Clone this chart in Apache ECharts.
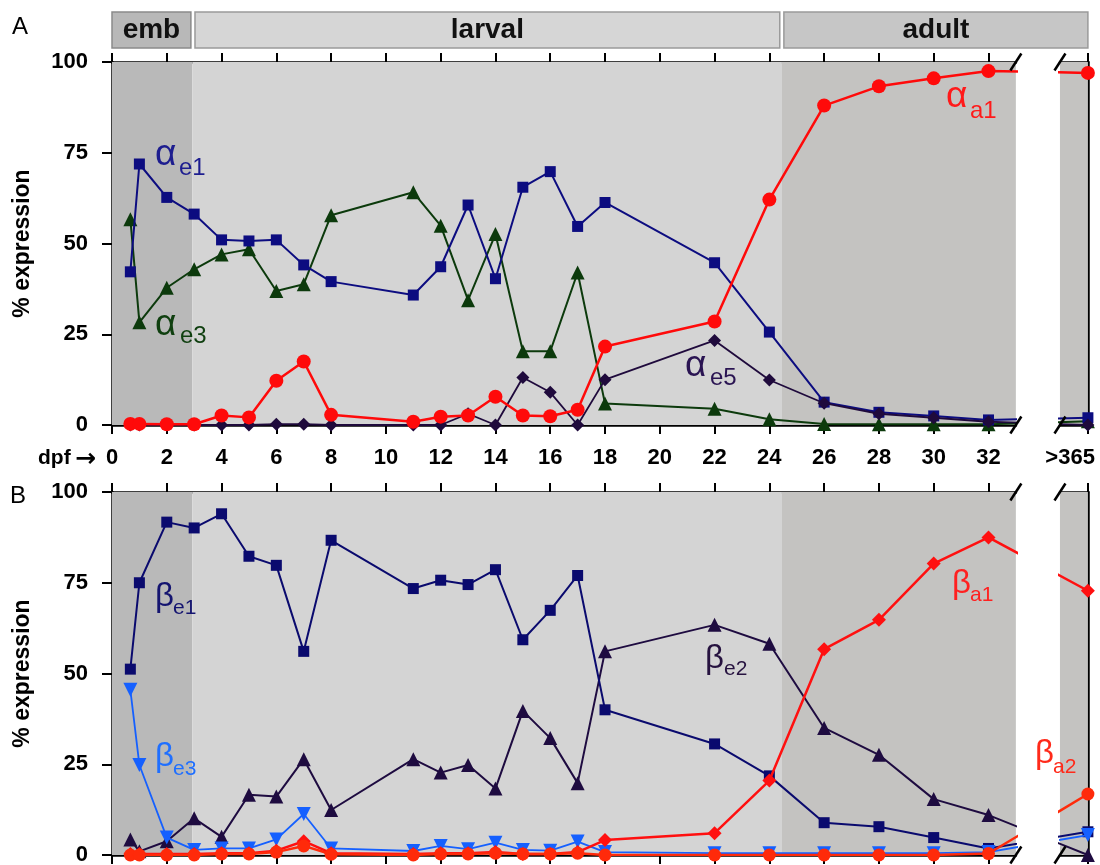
<!DOCTYPE html>
<html>
<head>
<meta charset="utf-8">
<script src="https://cdn.jsdelivr.net/npm/echarts@6/dist/echarts.min.js"></script>
<style>html,body{margin:0;padding:0;background:#fff}#c{width:1100px;height:865px}</style>
</head>
<body>
<div id="c"></div>
<script>
// ---------------- data ----------------
const dpf = [0.67, 1, 2, 3, 4, 5, 6, 7, 8, 11, 12, 13, 14, 15, 16, 17, 18, 22, 24, 26, 28, 30, 32, '>365'];
const xTicks = [0, 2, 4, 6, 8, 10, 12, 14, 16, 18, 20, 22, 24, 26, 28, 30, 32];
const yTicks = [0, 25, 50, 75, 100];
const stages = ['emb', 'larval', 'adult'];

// Panel A (alpha globins)
const alphaE1 = [42.2, 71.9, 62.7, 58.1, 51.0, 50.7, 51.0, 44.1, 39.5, 35.8, 43.6, 60.6, 40.3, 65.5, 69.8, 54.7, 61.3, 44.7, 25.6, 6.3, 3.5, 2.5, 1.4, 2.0];
const alphaE3 = [56.7, 28.3, 37.8, 42.9, 47.0, 48.4, 36.9, 38.8, 57.8, 64.1, 54.9, 34.4, 52.6, 20.3, 20.3, 42.0, 5.9, 4.5, 1.6, 0.3, 0.2, 0.2, 0.2, 1.0];
const alphaA1 = [0.3, 0.3, 0.2, 0.2, 2.6, 2.1, 12.2, 17.5, 2.8, 0.9, 2.3, 2.6, 7.8, 2.6, 2.4, 4.2, 21.6, 28.5, 62.1, 88.0, 93.3, 95.5, 97.5, 97.0];
const alphaE5 = [0, 0, 0, 0, 0, 0, 0.2, 0.2, 0, 0, 0, 3.1, 0, 13.1, 9.0, 0, 12.5, 23.3, 12.4, 6.0, 3.1, 2.0, 0.9, 0];

// Panel B (beta globins)
const betaE1 = [51.2, 75.0, 91.7, 90.1, 94.0, 82.3, 79.8, 56.1, 86.7, 73.4, 75.7, 74.5, 78.6, 59.3, 67.4, 77.0, 40.0, 30.6, 21.8, 8.9, 7.8, 4.8, 1.8, 6.4];
const betaE2 = [4.3, 1.0, 3.8, 10.1, 5.0, 16.6, 16.1, 26.4, 12.4, 26.4, 22.7, 24.8, 18.3, 39.7, 32.2, 19.8, 56.1, 63.4, 58.2, 35.0, 27.6, 15.4, 11.0, 0];
const betaE3 = [45.5, 24.8, 4.8, 1.4, 1.8, 1.8, 4.3, 11.3, 1.8, 1.1, 2.5, 1.6, 3.4, 1.4, 1.2, 3.7, 0.8, 0.5, 0.5, 0.5, 0.5, 0.5, 0.8, 5.5];
const betaA1 = [0.3, 0.3, 0.3, 0.3, 0.5, 0.5, 1.2, 3.8, 0.5, 0.3, 0.5, 0.5, 0.8, 0.3, 0.3, 0.8, 4.1, 6.0, 20.5, 56.7, 64.8, 80.3, 87.5, 72.8];
const betaA2 = [0, 0, 0, 0, 0.3, 0.3, 0.8, 2.5, 0.2, 0, 0.3, 0.3, 0.5, 0.3, 0.3, 0.5, 0, 0, 0, 0, 0, 0, 0.4, 16.8];

// ---------------- layout / style ----------------
const FONT = "'Liberation Sans', Arial, Helvetica, sans-serif";
const L = 112, PX = 27.39, MAIN_MAX = 33;
const X365 = 35.63, RIGHT_MIN = 34.61, LABEL365 = 34.98;
const EMB_END = 2.93, LARV_END = 24.46;
const mainW = MAIN_MAX * PX;
const rightL = L + RIGHT_MIN * PX;
const rightW = (X365 - RIGHT_MIN) * PX;
const panelTop = [62, 492], panelH = 363;
const C_EMB = '#b9b9b9', C_LARV = '#d4d4d4', C_ADULT = '#c4c3c1';

const xPos = d => (d === '>365' ? X365 : d);

const grids = [
  {left: L, top: panelTop[0], width: mainW, height: panelH},
  {left: rightL, top: panelTop[0], width: rightW, height: panelH},
  {left: L, top: panelTop[1], width: mainW, height: panelH},
  {left: rightL, top: panelTop[1], width: rightW, height: panelH},
  {left: L, top: 12, width: X365 * PX, height: 36}
].map(g => Object.assign({containLabel: false, outerBoundsMode: 'none'}, g));

const tickLabelStyle = {fontSize: 22, fontWeight: 'bold', color: '#000', fontFamily: FONT};

function xAx(grid, pos, main, labels) {
  return {
    type: 'value', gridIndex: grid, position: pos,
    min: main ? 0 : RIGHT_MIN, max: main ? MAIN_MAX : X365,
    axisLine: {show: true, onZero: false, lineStyle: {color: '#000', width: 2.5}},
    axisTick: {show: true, inside: false, length: 9, lineStyle: {color: '#000', width: 2},
               customValues: main ? xTicks : [X365]},
    axisLabel: Object.assign({show: labels, margin: 22,
               customValues: main ? xTicks : [LABEL365],
               formatter: main ? (v => String(v)) : (() => '>365')}, tickLabelStyle),
    splitLine: {show: false}
  };
}
const xAxes = [
  xAx(0, 'bottom', true, true), xAx(0, 'top', true, false),
  xAx(1, 'bottom', false, true), xAx(1, 'top', false, false),
  xAx(2, 'bottom', true, false), xAx(2, 'top', true, false),
  xAx(3, 'bottom', false, false), xAx(3, 'top', false, false),
  {type: 'value', gridIndex: 4, min: 0, max: X365, show: false}
];
function yMain(grid) {
  return {
    type: 'value', gridIndex: grid, min: 0, max: 100, interval: 25, position: 'left',
    axisLine: {show: true, onZero: false, lineStyle: {color: '#000', width: 2.5}},
    axisTick: {show: true, inside: false, length: 10, lineStyle: {color: '#000', width: 2}},
    axisLabel: Object.assign({show: true, margin: 24, customValues: yTicks}, tickLabelStyle),
    splitLine: {show: false},
    name: '% expression', nameLocation: 'middle', nameGap: 78, nameRotate: 90,
    nameTextStyle: {fontSize: 23, fontWeight: 'bold', color: '#000', fontFamily: FONT}
  };
}
function yRight(grid) {
  return {
    type: 'value', gridIndex: grid, min: 0, max: 100, position: 'right',
    axisLine: {show: true, onZero: false, lineStyle: {color: '#000', width: 2.5}},
    axisTick: {show: false}, axisLabel: {show: false}, splitLine: {show: false}
  };
}
const yAxes = [yMain(0), yRight(1), yMain(2), yRight(3),
  {type: 'value', gridIndex: 4, min: 0, max: 1, show: false}];

// axis index pairs: [xAxisIndex, yAxisIndex]
const AX = {Amain: [0, 0], Aright: [2, 1], Bmain: [4, 2], Bright: [6, 3], head: [8, 4]};

const series = [];
function bg(ax, areas) {
  series.push({
    type: 'line', xAxisIndex: ax[0], yAxisIndex: ax[1], data: [], z: 0, silent: true,
    markArea: {silent: true, animation: false,
      data: areas.map(a => [{xAxis: a[0], itemStyle: {color: a[2], opacity: 1}}, {xAxis: a[1]}])}
  });
}
[AX.Amain, AX.Bmain].forEach(ax => bg(ax, [[0, EMB_END, C_EMB], [EMB_END, LARV_END, C_LARV], [LARV_END, MAIN_MAX, C_ADULT]]));
[AX.Aright, AX.Bright].forEach(ax => bg(ax, [[RIGHT_MIN, X365, C_ADULT]]));

// stage header boxes
series.push({
  type: 'line', xAxisIndex: AX.head[0], yAxisIndex: AX.head[1], data: [], z: 0, silent: true,
  markArea: {silent: true, animation: false,
    label: {show: true, position: 'inside', fontSize: 28, fontWeight: 'bold', color: '#111', fontFamily: FONT},
    data: [
      [{name: stages[0], xAxis: 0, itemStyle: {color: '#b8b8b8', borderColor: '#8a8a8a', borderWidth: 1.5, opacity: 1}}, {xAxis: 2.88}],
      [{name: stages[1], xAxis: 3.03, itemStyle: {color: '#d6d6d6', borderColor: '#9a9a9a', borderWidth: 1.5, opacity: 1}}, {xAxis: 24.38}],
      [{name: stages[2], xAxis: 24.53, itemStyle: {color: '#c6c6c6', borderColor: '#9a9a9a', borderWidth: 1.5, opacity: 1}}, {xAxis: X365 + 0.07}]
    ]}
});

function addLine(name, vals, o, panel) {
  const data = dpf.map((d, i) => [xPos(d), vals[i]]);
  const axes = panel === 'A' ? [AX.Amain, AX.Aright] : [AX.Bmain, AX.Bright];
  axes.forEach(ax => series.push({
    type: 'line', name, data, xAxisIndex: ax[0], yAxisIndex: ax[1],
    symbol: o.symbol, symbolSize: o.size, symbolRotate: o.rot || 0, showAllSymbol: true,
    itemStyle: {color: o.color}, lineStyle: {color: o.color, width: o.lw},
    z: o.z, clip: true, silent: true, animation: false, emphasis: {disabled: true}
  }));
}
addLine('αe3', alphaE3, {symbol: 'triangle', size: 14, color: '#0c3a0c', lw: 2, z: 2}, 'A');
addLine('αe1', alphaE1, {symbol: 'rect', size: 11, color: '#0c0c80', lw: 2, z: 3}, 'A');
addLine('αe5', alphaE5, {symbol: 'diamond', size: 13, color: '#1f0a3c', lw: 1.8, z: 4}, 'A');
addLine('αa1', alphaA1, {symbol: 'circle', size: 14, color: '#ff0a0a', lw: 2.5, z: 5}, 'A');

addLine('βe2', betaE2, {symbol: 'triangle', size: 14, color: '#1e0b40', lw: 2, z: 2}, 'B');
addLine('βe1', betaE1, {symbol: 'rect', size: 11, color: '#0a0a6e', lw: 2, z: 3}, 'B');
addLine('βe3', betaE3, {symbol: 'triangle', size: 14, rot: 180, color: '#1560ff', lw: 1.8, z: 4}, 'B');
addLine('βa1', betaA1, {symbol: 'diamond', size: 14, color: '#ff1010', lw: 2.5, z: 5}, 'B');
addLine('βa2', betaA2, {symbol: 'circle', size: 13, color: '#ff2a0a', lw: 2.5, z: 6}, 'B');

// ---------------- annotations ----------------
const greek = [
  {g: 'α', s: 'e1', x: 155, y: 155, sx: 179, sy: 168, c: '#1d1d8f', big: 37, small: 24},
  {g: 'α', s: 'e3', x: 155, y: 325, sx: 180, sy: 336, c: '#0f3f0f', big: 37, small: 24},
  {g: 'α', s: 'a1', x: 946, y: 97, sx: 970, sy: 111, c: '#ff1a1a', big: 37, small: 24},
  {g: 'α', s: 'e5', x: 685, y: 366, sx: 710, sy: 378, c: '#2a1452', big: 37, small: 24},
  {g: 'β', s: 'e1', x: 155, y: 597, sx: 173, sy: 608, c: '#141470', big: 33, small: 21},
  {g: 'β', s: 'e3', x: 155, y: 757, sx: 173, sy: 769, c: '#1f6fff', big: 33, small: 21},
  {g: 'β', s: 'e2', x: 705, y: 659, sx: 724, sy: 669, c: '#26123f', big: 33, small: 21},
  {g: 'β', s: 'a1', x: 952, y: 584, sx: 970, sy: 595, c: '#ff2020', big: 33, small: 21},
  {g: 'β', s: 'a2', x: 1035, y: 754, sx: 1053, sy: 767, c: '#ff2a1a', big: 33, small: 21}
];
const graphic = [];
greek.forEach(t => {
  graphic.push({type: 'text', z: 100, silent: true, x: t.x, y: t.y,
    style: {text: t.g, fill: t.c, font: `${t.big}px ${FONT}`, textAlign: 'left', textVerticalAlign: 'middle'}});
  graphic.push({type: 'text', z: 100, silent: true, x: t.sx, y: t.sy,
    style: {text: t.s, fill: t.c, font: `${t.small}px ${FONT}`, textAlign: 'left', textVerticalAlign: 'middle'}});
});
graphic.push({type: 'text', z: 100, silent: true, x: 12, y: 27,
  style: {text: 'A', fill: '#000', font: `24px ${FONT}`, textVerticalAlign: 'middle'}});
graphic.push({type: 'text', z: 100, silent: true, x: 10, y: 496,
  style: {text: 'B', fill: '#000', font: `24px ${FONT}`, textVerticalAlign: 'middle'}});
graphic.push({type: 'text', z: 100, silent: true, x: 38, y: 458,
  style: {text: 'dpf', fill: '#000', font: `bold 21px ${FONT}`, textVerticalAlign: 'middle'}});
graphic.push({type: 'text', z: 100, silent: true, x: 75, y: 459,
  style: {text: '→', fill: '#000', font: `bold 25px 'DejaVu Sans', sans-serif`, textVerticalAlign: 'middle'}});

// axis break slashes
const breakX = [L + mainW, rightL];
[panelTop[0], panelTop[0] + panelH, panelTop[1], panelTop[1] + panelH].forEach(y => {
  breakX.forEach(x => graphic.push({type: 'line', z: 100, silent: true,
    shape: {x1: x - 5.5, y1: y + 8.5, x2: x + 5.5, y2: y - 8.5},
    style: {stroke: '#000', lineWidth: 2.5}}));
});

const chart = echarts.init(document.getElementById('c'), null, {renderer: 'canvas'});
chart.setOption({
  animation: false,
  backgroundColor: '#fff',
  textStyle: {fontFamily: FONT},
  grid: grids,
  xAxis: xAxes,
  yAxis: yAxes,
  series,
  graphic
});
</script>
</body>
</html>
